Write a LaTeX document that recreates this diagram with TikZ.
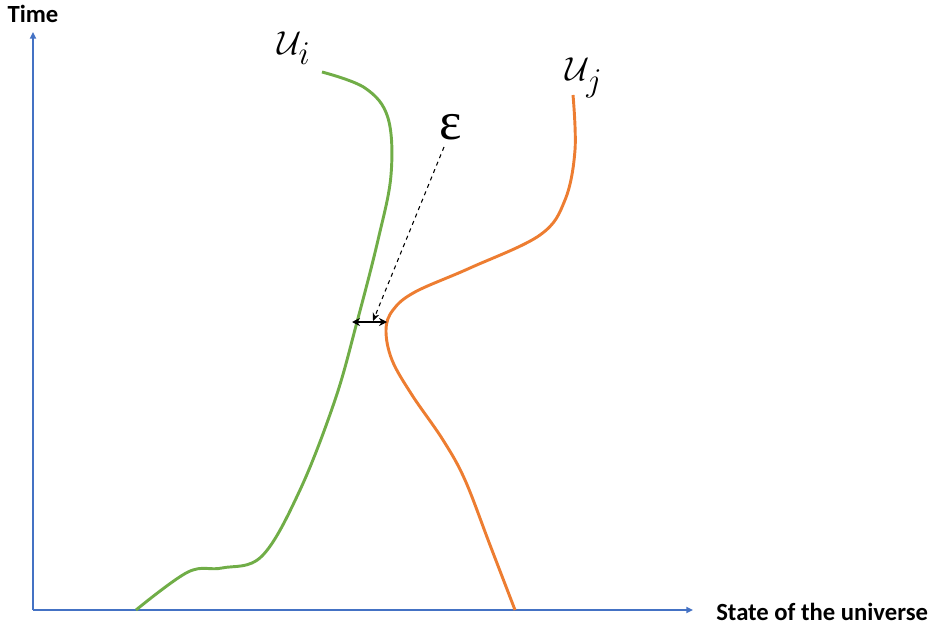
\documentclass[tikz,border=0pt]{standalone}
\usepackage{fontspec}
\newfontfamily\labelfont{Carlito}
\newfontfamily\greekfont{Liberation Serif}
\usepackage{amsmath,amssymb}
\usetikzlibrary{arrows.meta,positioning,calc}
\definecolor{axisblue}{HTML}{4472C4}
\definecolor{worldi}{HTML}{70AD47}
\definecolor{worldj}{HTML}{ED7D31}
\begin{document}
\begin{tikzpicture}[
      x=0.75pt,y=-0.75pt,
      axis/.style={draw=axisblue,line width=1.5pt,-{Triangle[length=5pt,width=4.5pt]}},
      axislabel/.style={font=\labelfont\bfseries\fontsize{18.5}{22}\selectfont,inner sep=0pt},
      world/.style={line width=2.2pt,line join=round},
      worldlabel/.style={font=\fontsize{35}{38}\selectfont,inner sep=0pt},
      gap/.style={line width=1.1pt,{Stealth[length=6pt,width=6pt]}-{Stealth[length=6pt,width=6pt]}}
    ]
    \useasboundingbox (0,0) rectangle (934,627);
    \coordinate (origin) at (33,610);
    \coordinate (ytip) at (33,32);
    \coordinate (xtip) at (693,610);
    \draw[axis] (origin) -- (ytip);
    \draw[axis] (origin) -- (xtip);
    \node[axislabel,anchor=center] (timelabel) at (33,14) {Time};
    \node[axislabel,anchor=west] (statelabel) at (716,612) {State of the universe};
    \draw[world,draw=worldi] plot[smooth,tension=0.6] coordinates {
      (136,610) (188,572) (222,568) (262,556) (300,490) (335,400) (357,322)
      (378,240) (391,175) (388,118) (365,88) (322,72)};
    \draw[world,draw=worldj] plot[smooth,tension=0.6] coordinates {
      (515,610) (490,545) (465,480) (443,440) (412,395) (392,360) (386,330)
      (393,310) (415,292) (470,268) (540,235) (565,200) (575,150) (573,95)};
    \node[worldlabel] (ui) at (294,48) {$\mathcal{U}_i$};
    \node[worldlabel] (uj) at (584,78) {$\mathcal{U}_j$};
    \node[inner sep=0pt,font=\greekfont\fontsize{40}{40}\selectfont] (eps) at (451,127) {ε};
    \coordinate (epstail) at (444,147);
    \coordinate (gapleft) at (352,322);
    \coordinate (gapright) at (387,322);
    \coordinate (gapmid) at (373,321);
    \draw[gap] (gapleft) -- (gapright);
    \draw[dashed,line width=0.8pt,-{Stealth[length=6pt,width=5pt]}] (epstail) -- (gapmid);
  \end{tikzpicture}
\end{document}
